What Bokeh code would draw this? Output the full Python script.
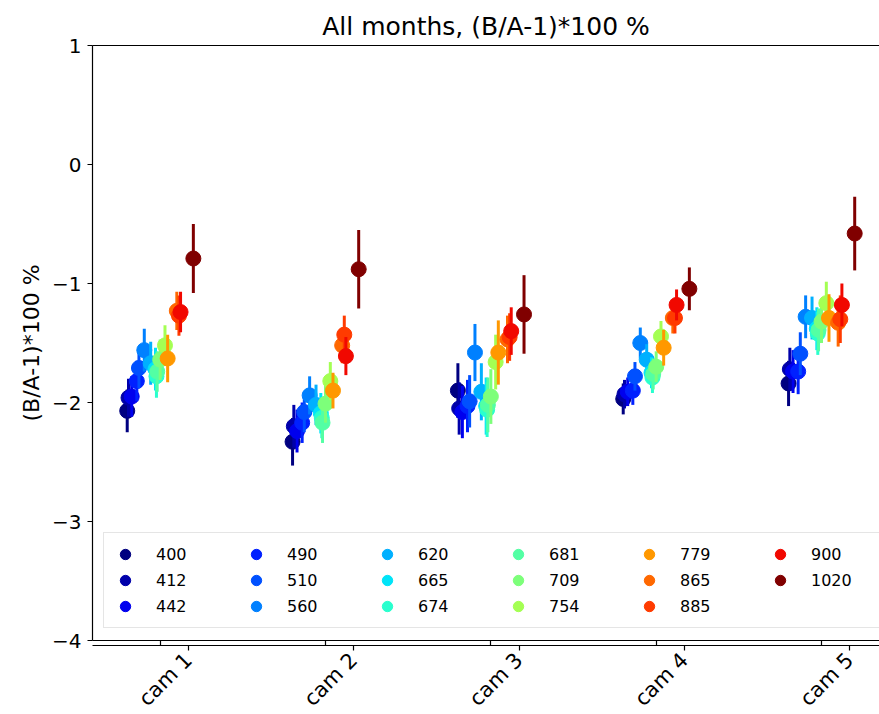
import math
from bokeh.plotting import figure
from bokeh.models import ColumnDataSource, Range1d, FixedTicker, Legend, LegendItem, LinearAxis
from bokeh.embed import file_html
from bokeh.resources import INLINE

# ---------------- data ----------------
cameras = ["cam 1", "cam 2", "cam 3", "cam 4", "cam 5"]
wavelengths = [400, 412, 442, 490, 510, 560, 620, 665, 674, 681, 709, 754, 779, 865, 885, 900, 1020]

cam1 = [-2.07, -1.96, -1.95, -1.82, -1.71, -1.56, -1.67, -1.72, -1.78, -1.74, -1.64, -1.52, -1.63, -1.23, -1.27, -1.24, -0.79]
cam2 = [-2.33, -2.20, -2.24, -2.17, -2.08, -1.94, -2.02, -2.09, -2.13, -2.17, -2.01, -1.82, -1.90, -1.52, -1.43, -1.61, -0.88]
cam3 = [-1.90, -2.05, -2.08, -2.03, -1.99, -1.58, -1.91, -2.03, -2.06, -2.02, -1.95, -1.66, -1.58, -1.47, -1.45, -1.40, -1.26]
cam4 = [-1.97, -1.93, -1.91, -1.90, -1.78, -1.50, -1.64, -1.75, -1.79, -1.76, -1.70, -1.445, -1.54, -1.29, -1.29, -1.18, -1.045]
cam5 = [-1.84, -1.72, -1.74, -1.74, -1.59, -1.28, -1.29, -1.38, -1.42, -1.39, -1.32, -1.165, -1.29, -1.33, -1.30, -1.18, -0.58]

cam1_err = [0.18, 0.16, 0.17, 0.17, 0.17, 0.18, 0.18, 0.18, 0.18, 0.17, 0.17, 0.17, 0.20, 0.16, 0.17, 0.17, 0.29]
cam2_err = [0.20, 0.18, 0.18, 0.17, 0.17, 0.16, 0.17, 0.17, 0.17, 0.17, 0.16, 0.16, 0.15, 0.15, 0.16, 0.16, 0.33]
cam3_err = [0.23, 0.22, 0.22, 0.22, 0.22, 0.24, 0.24, 0.24, 0.23, 0.23, 0.23, 0.23, 0.27, 0.20, 0.20, 0.20, 0.33]
cam4_err = [0.13, 0.12, 0.12, 0.12, 0.12, 0.13, 0.13, 0.13, 0.13, 0.13, 0.13, 0.13, 0.15, 0.13, 0.13, 0.13, 0.18]
cam5_err = [0.19, 0.18, 0.18, 0.19, 0.18, 0.18, 0.18, 0.18, 0.18, 0.18, 0.18, 0.18, 0.20, 0.20, 0.20, 0.18, 0.31]

y_ticks = [-4, -3, -2, -1, 0, 1]

values = [cam1, cam2, cam3, cam4, cam5]
errors = [cam1_err, cam2_err, cam3_err, cam4_err, cam5_err]

# ---------------- styles ----------------
colors = ["#000080", "#0000aa", "#0000ee", "#0020ff", "#0050ff", "#0080ff", "#00b0ff", "#00e4f8",
          "#29ffce", "#53ffa4", "#7dff7a", "#a4ff53", "#ff9800", "#ff6800", "#ff3b00", "#f10800", "#800000"]
FONT = "DejaVu Sans"
LABEL_SHIFT = 0.17   # rotated tick labels centred on their tick (matplotlib style)

p = figure(frame_width=787, frame_height=595,
           min_border_left=92, min_border_right=0, min_border_top=45, min_border_bottom=74,
           x_range=Range1d(0.59, 5.35), y_range=Range1d(-4, 1),
           output_backend="svg", toolbar_location=None,
           title="All months, (B/A-1)*100 %")

p.title.align = "center"
p.title.text_font = FONT
p.title.text_font_size = "25px"
p.title.text_font_style = "normal"
p.title.text_color = "black"

p.xgrid.visible = False
p.ygrid.visible = False
p.outline_line_color = None
p.background_fill_color = "white"
p.border_fill_color = "white"

items = []
for j, wl in enumerate(wavelengths):
    off = 0.2 * (wl - 710) / 310.0
    xs = [k + 1 + off for k in range(len(cameras))]
    ys = [values[k][j] for k in range(len(cameras))]
    es = [errors[k][j] for k in range(len(cameras))]
    src = ColumnDataSource(dict(x=xs, y=ys,
                                lo=[y - e for y, e in zip(ys, es)],
                                hi=[y + e for y, e in zip(ys, es)]))
    p.segment(x0="x", y0="lo", x1="x", y1="hi", source=src,
              line_color=colors[j], line_width=3)
    sc = p.scatter(x="x", y="y", source=src, size=15, marker="circle",
                   fill_color=colors[j], line_color=colors[j])
    items.append(LegendItem(label=str(wl), renderers=[sc]))

legend = Legend(items=items, location=(11, 12), orientation="vertical", nrows=3,
                padding=8, spacing=0, glyph_width=26, glyph_height=26,
                label_standoff=18, label_width=87,
                label_text_font=FONT, label_text_font_size="16px", label_text_color="black",
                border_line_color="#cccccc", border_line_width=1.5,
                background_fill_color="white", background_fill_alpha=0.8, margin=0)
p.add_layout(legend, "center")

# x axis: tick marks at the cameras
p.xaxis.ticker = FixedTicker(ticks=[1, 2, 3, 4, 5])
p.xaxis.major_label_overrides = {i + 1: "" for i in range(len(cameras))}
p.xaxis.major_label_standoff = 0
p.xaxis.major_label_text_font_size = "1px"

# second axis carrying the rotated camera labels
lab_axis = LinearAxis(ticker=FixedTicker(ticks=[i + 1 + LABEL_SHIFT for i in range(len(cameras))]),
                      major_label_overrides={i + 1 + LABEL_SHIFT: c for i, c in enumerate(cameras)},
                      major_label_orientation=math.pi / 4,
                      axis_line_color=None, major_tick_line_color=None, minor_tick_line_color=None,
                      major_label_standoff=6,
                      major_label_text_font=FONT, major_label_text_font_size="21px",
                      major_label_text_color="black")
p.add_layout(lab_axis, "below")

# top spine
top_axis = LinearAxis(ticker=FixedTicker(ticks=[]), axis_line_color="black", axis_line_width=1.2,
                      major_tick_line_color=None, minor_tick_line_color=None,
                      major_label_text_font_size="1px", major_label_standoff=0)
p.add_layout(top_axis, "above")

p.yaxis.ticker = FixedTicker(ticks=y_ticks)
p.yaxis.major_label_overrides = {t: (str(t).replace("-", "\u2212")) for t in y_ticks}
p.yaxis.axis_label = "(B/A-1)*100 %"

for ax in (p.xaxis, p.yaxis):
    ax.axis_line_color = "black"
    ax.axis_line_width = 1.2
    ax.major_tick_line_color = "black"
    ax.major_tick_line_width = 1.2
    ax.major_tick_out = 5
    ax.major_tick_in = 0
    ax.minor_tick_line_color = None
    ax.major_label_text_font = FONT
    ax.major_label_text_color = "black"
    ax.axis_label_text_font = FONT
    ax.axis_label_text_font_style = "normal"
    ax.axis_label_text_color = "black"
p.yaxis.major_label_text_font_size = "20px"
p.yaxis.axis_label_text_font_size = "22px"
p.yaxis.major_label_standoff = 6

open("out.html", "w").write(file_html(p, INLINE))
